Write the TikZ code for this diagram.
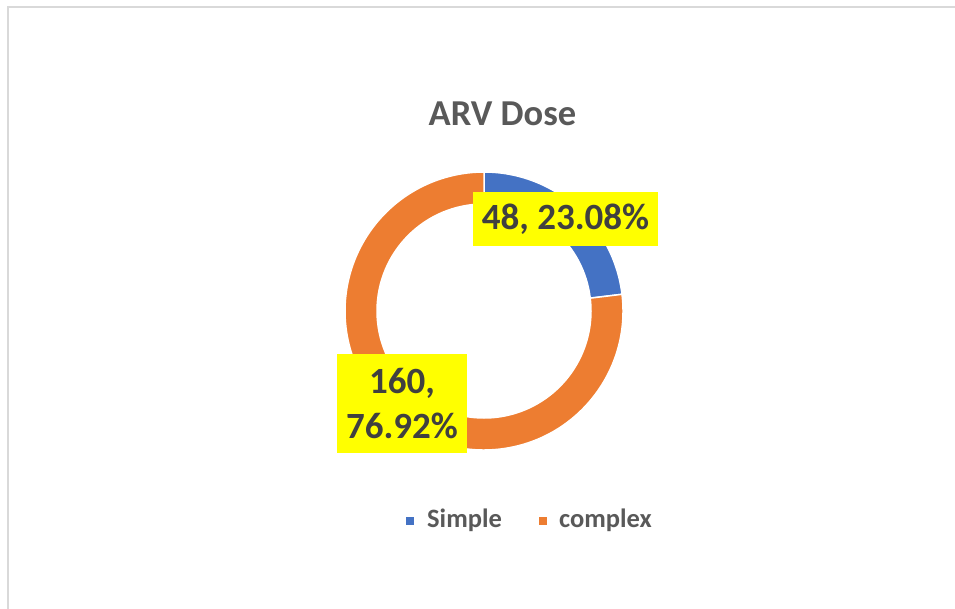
\documentclass[tikz,border=0pt]{standalone}
\usepackage{fontspec}
\setmainfont{Carlito}
\definecolor{sliceblue}{HTML}{4472C4}
\definecolor{sliceorange}{HTML}{ED7D31}
\definecolor{labeltext}{HTML}{404040}
\definecolor{titletext}{HTML}{595959}
\definecolor{framegray}{HTML}{D9D9D9}
\definecolor{labelyellow}{HTML}{FFFF00}
\tikzset{
  slice/.style={draw=white, line width=1.5pt},
  datalabel/.style={fill=labelyellow, text=labeltext, font=\fontsize{37}{45}\selectfont\bfseries, align=center, inner sep=0pt},
  legendtext/.style={text=titletext, font=\fontsize{26.5}{30}\selectfont\bfseries, anchor=base west, inner sep=0pt},
  legendkey/.style={minimum size=8pt, inner sep=0pt},
}
\begin{document}
\begin{tikzpicture}[x=1pt,y=-1pt]
\useasboundingbox (0,0) rectangle (955,609);
\fill[white] (0,0) rectangle (955,609);
\draw[framegray, line width=1.5pt] (8,609) -- (8,7) -- (955,7);
% title
\node[text=titletext, font=\fontsize{36.5}{40}\selectfont\bfseries, anchor=base, inner sep=0pt] (title) at (502.5,126) {ARV Dose};
% donut
\begin{scope}[shift={(484,311)}, yscale=-1]
\filldraw[slice, fill=sliceblue] (90:139) arc[start angle=90, end angle=6.9, radius=139] -- (6.9:107) arc[start angle=6.9, end angle=90, radius=107] -- cycle;
\filldraw[slice, fill=sliceorange] (6.9:139) arc[start angle=6.9, end angle=-270, radius=139] -- (90:107) arc[start angle=-270, end angle=6.9, radius=107] -- cycle;
\end{scope}
% data labels
\node[datalabel, minimum width=185pt, minimum height=54pt] (lblsimple) at (565.5,219) {48, 23.08\%};
\node[datalabel, minimum width=130pt, minimum height=99pt] (lblcomplex) at (402,403.5) {160,\\76.92\%};
% legend
\node[legendkey, fill=sliceblue] (keysimple) at (409.5,521) {};
\node[legendtext] (txtsimple) at (427,527) {Simple};
\node[legendkey, fill=sliceorange] (keycomplex) at (543,521) {};
\node[legendtext] (txtcomplex) at (559,527) {complex};
\end{tikzpicture}
\end{document}
